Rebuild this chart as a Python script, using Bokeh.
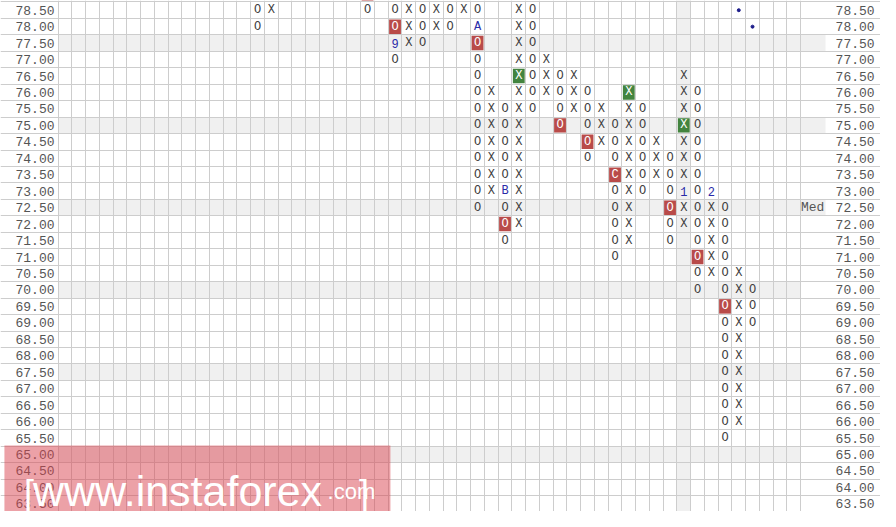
from bokeh.plotting import figure
from bokeh.models import Range1d, Grid, FixedTicker, ColumnDataSource, BoxAnnotation, Label
from bokeh.core.properties import value
from bokeh.embed import file_html
from bokeh.resources import INLINE

# ---------------- data ----------------
BOX = 0.5
price_labels = ["78.50", "78.00", "77.50", "77.00", "76.50", "76.00", "75.50", "75.00",
                "74.50", "74.00", "73.50", "73.00", "72.50", "72.00", "71.50", "71.00",
                "70.50", "70.00", "69.50", "69.00", "68.50", "68.00", "67.50", "67.00",
                "66.50", "66.00", "65.50", "65.00", "64.50", "64.00", "63.50"]

# point & figure columns: index, kind, lowest box, highest visible box
col_index = [14, 15, 22, 24, 25, 26, 27, 28, 29, 30, 31, 32, 33, 34, 35, 36, 37, 38,
             39, 40, 41, 42, 43, 44, 45, 46, 47, 48, 49, 50]
col_kind = ["O", "X", "O", "O", "X", "O", "X", "O", "X", "O", "X", "O", "X", "O", "X", "O",
            "X", "O", "X", "O", "X", "O", "X", "O", "X", "O", "X", "O", "X", "O"]
col_low = [78.0, 78.5, 78.5, 77.0, 77.5, 77.5, 78.0, 78.0, 78.5, 72.5, 73.0, 71.5, 72.0, 75.5,
           76.0, 75.0, 75.5, 74.0, 74.5, 71.0, 71.5, 73.0, 73.5, 71.5, 72.0, 70.0, 70.5, 65.5,
           66.0, 69.0]
col_high = [78.5, 78.5, 78.5, 78.5, 78.5, 78.5, 78.5, 78.5, 78.5, 78.5, 76.0, 75.5, 78.5, 78.5,
            77.0, 76.5, 76.5, 76.0, 75.5, 75.0, 76.0, 75.5, 74.5, 74.0, 76.5, 76.0, 73.0, 72.5,
            70.5, 70.0]

# highlighted boxes (the 79.00 one is only a sliver above the view)
red_col = [22, 24, 30, 32, 36, 38, 40, 44, 46, 48]
red_price = [79.0, 78.0, 77.5, 72.0, 75.0, 74.5, 73.5, 72.5, 71.0, 69.5]
green_col = [33, 41, 45]
green_price = [76.5, 76.0, 75.0]

# month markers replacing a box
mark_col = [24, 30, 32, 40, 45, 47]
mark_price = [77.5, 78.0, 73.0, 73.5, 73.0, 73.0]
mark_text = ["9", "A", "B", "C", "1", "2"]

# price dots
dot_col = [49, 50]
dot_price = [78.5, 78.0]

# shaded rows / column
shade_rows_wide = [77.5, 75.0, 72.5]
shade_rows = [70.0, 67.5, 65.0]
shade_col = [45]
median_price = [72.5]
N_COLS = 54

# ---------------- geometry (reference pixels -> data) ----------------
X0_PX, COL_PX = 65.7, 14.0
Y0_PX, ROW_PX = 10.0, 16.97
W_REF, H_REF = 896, 527


def xd(px):
    return (px - X0_PX) / COL_PX


def yd(py):
    return 78.5 - (py - Y0_PX) / ROW_PX * BOX


p = figure(width=880, height=511, output_backend="svg", toolbar_location=None,
           x_axis_type=None, y_axis_type=None, min_border=0,
           x_range=Range1d(xd(0), xd(W_REF)), y_range=Range1d(yd(H_REF), yd(0)))
p.outline_line_color = None
p.background_fill_color = "white"
p.border_fill_color = "white"

ytop, ybot = yd(0) + 1, yd(H_REF) - 1
med_right = xd(840)

# shading (below grid)
r = p.quad(left=[-0.5] * len(shade_rows_wide), right=[med_right] * len(shade_rows_wide),
           bottom=[v - BOX / 2 for v in shade_rows_wide], top=[v + BOX / 2 for v in shade_rows_wide],
           fill_color="#f0f0f0", line_color=None)
r.level = "image"
r = p.quad(left=[-0.5] * len(shade_rows), right=[N_COLS - 0.5] * len(shade_rows),
           bottom=[v - BOX / 2 for v in shade_rows], top=[v + BOX / 2 for v in shade_rows],
           fill_color="#f0f0f0", line_color=None)
r.level = "image"
r = p.quad(left=[c - 0.5 for c in shade_col], right=[c + 0.5 for c in shade_col],
           bottom=[ybot] * len(shade_col), top=[ytop] * len(shade_col),
           fill_color="#f0f0f0", line_color=None)
r.level = "image"

# grid
lows = [float(s) for s in price_labels]
hticks = [v - BOX / 2 for v in lows] + [lows[0] + BOX / 2, lows[0] + 1.5 * BOX]
vticks = [k - 0.5 for k in range(N_COLS + 1)]
p.add_layout(Grid(dimension=1, ticker=FixedTicker(ticks=hticks), grid_line_color="#cdcdcd",
                  grid_line_width=1))
p.add_layout(Grid(dimension=0, ticker=FixedTicker(ticks=vticks), grid_line_color="#cdcdcd",
                  grid_line_width=1))

# highlighted cells
p.quad(left=[c - 0.43 for c in red_col], right=[c + 0.43 for c in red_col],
       bottom=[v - 0.22 for v in red_price], top=[v + 0.22 for v in red_price],
       fill_color="#b94b49", line_color=None)
p.quad(left=[c - 0.43 for c in green_col], right=[c + 0.43 for c in green_col],
       bottom=[v - 0.22 for v in green_price], top=[v + 0.22 for v in green_price],
       fill_color="#43843f", line_color=None)

# boxes
red_set = set(zip(red_col, red_price))
green_set = set(zip(green_col, green_price))
marks = {(c, v): t for c, v, t in zip(mark_col, mark_price, mark_text)}
bx, by, bt, bc = [], [], [], []
for k, kind, lo, hi in zip(col_index, col_kind, col_low, col_high):
    n = int(round((hi - lo) / BOX)) + 1
    for i in range(n):
        v = lo + i * BOX
        key = (k, v)
        txt = marks.get(key, kind)
        if key in red_set or key in green_set:
            col = "#ffffff"
        elif key in marks:
            col = "#2a2aa8"
        else:
            col = "#404040"
        bx.append(k)
        by.append(v)
        bt.append(txt)
        bc.append(col)
src = ColumnDataSource(dict(x=bx, y=by, t=bt, c=bc))
p.text(x="x", y="y", text="t", text_color="c", source=src, text_align="center",
       text_baseline="middle", text_font=value("Liberation Mono"), text_font_size="12px")

# dots
p.scatter(x=dot_col, y=dot_price, size=3, color="#1c1c8a")

# price labels, left and right
lab = ColumnDataSource(dict(y=lows, t=price_labels))
p.text(x=xd(55), y="y", text="t", source=lab, text_align="right", text_baseline="middle",
       text_font=value("Liberation Mono"), text_font_size="13px", text_color="#555555")
p.text(x=xd(890), y="y", text="t", source=lab, text_align="right", text_baseline="middle",
       text_font=value("Liberation Mono"), text_font_size="13px", text_color="#555555")
p.text(x=[xd(815)] * len(median_price), y=median_price, text=["Med"] * len(median_price),
       text_align="left", text_baseline="middle",
       text_font=value("Liberation Mono"), text_font_size="13px", text_color="#555555")

# watermark
p.add_layout(BoxAnnotation(left=xd(4), right=xd(397), top=yd(459), bottom=yd(H_REF) - 1,
                           fill_color="#d9434f", fill_alpha=0.5, line_color=None, level="overlay"))
wm = dict(text_color="white", text_font="Liberation Sans", text_baseline="alphabetic",
          level="overlay")
p.add_layout(Label(x=xd(24), y=yd(508), text="[", text_font_size="36px", **wm))
p.add_layout(Label(x=xd(33), y=yd(506), text="www.instaforex", text_font_size="43px", **wm))
p.add_layout(Label(x=xd(333), y=yd(506), text=".com", text_font_size="22px", **wm))
p.add_layout(Label(x=xd(365), y=yd(508), text="]", text_font_size="36px", **wm))

open("out.html", "w").write(file_html(p, INLINE))
